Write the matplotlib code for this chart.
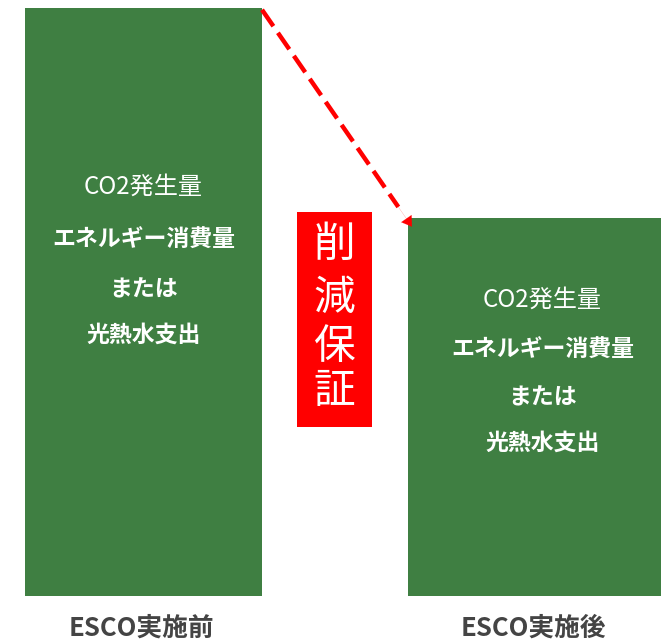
import matplotlib
matplotlib.use("Agg")
import matplotlib.pyplot as plt
from matplotlib.patches import Rectangle

plt.rcParams['font.family'] = ['Noto Sans CJK JP', 'DejaVu Sans']

categories = ["ESCO実施前", "ESCO実施後"]
values = [100, 64.3]
bar_lines = ["CO2発生量", "エネルギー消費量", "または", "光熱水支出"]
badge_text = "削減保証"

GREEN = "#3f7f42"
RED = "#ff0000"

W, H = 661, 642
fig = plt.figure(figsize=(W / 100, H / 100), dpi=100)
# axes: bottom at pixel 596 from top; value 100 at pixel 8
bottom_px = 596
top_px_val100 = 8
ppu_y = (bottom_px - top_px_val100) / 100.0
ax = fig.add_axes([0, (H - bottom_px) / H, 1, bottom_px / H])
ax.set_ylim(0, bottom_px / ppu_y)

# x mapping: category 0 centre at 143.5 px, category 1 centre at 534.5 px
ppu_x = 391.0
ax.set_xlim(-143.5 / ppu_x, 1 + (W - 534.5) / ppu_x)
widths = [237 / ppu_x, 253 / ppu_x]
x = [0, 1]
ax.bar(x, values, width=widths, color=GREEN, edgecolor="none")
ax.axis("off")

# text inside bars (data coordinates)
text_dx = [0, 8 / ppu_x]
line_px = [[187, 240, 290, 335], [300, 350, 398, 443]]
for i in range(2):
    for j, t in enumerate(bar_lines):
        ax.text(x[i] + text_dx[i], (bottom_px - line_px[i][j]) / ppu_y, t,
                color="white", ha="center", va="center",
                fontsize=(17.4 if j == 0 else 16.5),
                fontweight=("normal" if j == 0 else "bold"))

# bottom labels
for i, c in enumerate(categories):
    fig.text((141 + i * 392) / W, 1 - 628 / H, c, ha="center", va="center",
             fontsize=18.5, color="#444444", fontweight="bold")

# dashed arrow from top-right of bar 1 to top-left of bar 2
x0 = x[0] + widths[0] / 2
y0 = values[0] - 0.3
x1 = x[1] - widths[1] / 2 + 4 / ppu_x
y1 = values[1] - 1.5
ax.plot([x0, x1 - 0.035], [y0, y1 + (y0 - y1) * 0.035 / (x1 - x0)],
        color=RED, lw=3.2, linestyle=(0, (4.5, 1.8)), solid_capstyle="butt",
        dash_capstyle="butt", clip_on=False)
ax.annotate("", xy=(x1, y1), xytext=(x1 - 0.05, y1 + (y0 - y1) * 0.05 / (x1 - x0)),
            arrowprops=dict(arrowstyle="-|>,head_length=0.7,head_width=0.45",
                            color=RED, lw=0.1, shrinkA=0, shrinkB=0))

# red badge
bx0, bx1 = 297 / ppu_x - 143.5 / ppu_x, 372 / ppu_x - 143.5 / ppu_x
by_top = (bottom_px - 212) / ppu_y
by_bot = (bottom_px - 427) / ppu_y
ax.add_patch(Rectangle((bx0, by_bot), bx1 - bx0, by_top - by_bot, color=RED, lw=0))
cx = (bx0 + bx1) / 2
char_px = [245, 298, 347, 392]
for ch, py in zip(badge_text, char_px):
    ax.text(cx, (bottom_px - py) / ppu_y, ch, color="white", ha="center", va="center",
            fontsize=30, fontweight="normal")

fig.savefig("out.png", dpi=100)
